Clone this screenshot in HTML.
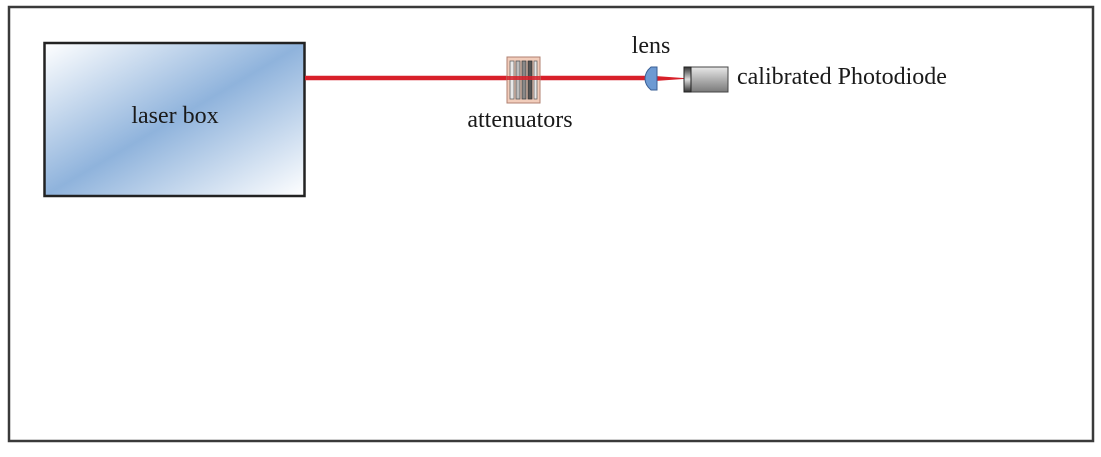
<!DOCTYPE html>
<html><head><meta charset="utf-8"><style>
html,body{margin:0;padding:0;background:#fff;}
body{width:1101px;height:452px;overflow:hidden;}
text{font-family:"Liberation Serif",serif;fill:#1a1a1a;}
</style></head><body>
<svg width="1101" height="452" viewBox="0 0 1101 452" xmlns="http://www.w3.org/2000/svg">
<defs>
<linearGradient id="lb" x1="0" y1="0" x2="1" y2="1" gradientUnits="objectBoundingBox">
<stop offset="0" stop-color="#ffffff"/>
<stop offset="0.5" stop-color="#8fb3dc"/>
<stop offset="1" stop-color="#ffffff"/>
</linearGradient>
<linearGradient id="pd" x1="0" y1="0" x2="0" y2="1">
<stop offset="0" stop-color="#e8e8e8"/>
<stop offset="0.5" stop-color="#b0b0b0"/>
<stop offset="1" stop-color="#7a7a7a"/>
</linearGradient>
<linearGradient id="pf" x1="0" y1="0" x2="0" y2="1">
<stop offset="0" stop-color="#333"/>
<stop offset="0.5" stop-color="#ddd"/>
<stop offset="1" stop-color="#333"/>
</linearGradient>
</defs>
<rect x="9" y="7" width="1084" height="434" fill="#fff" stroke="#3a3a3a" stroke-width="2.5"/>
<rect x="44.5" y="43" width="260" height="153" fill="url(#lb)" stroke="#222" stroke-width="2.5"/>
<text x="175" y="123" font-size="24" text-anchor="middle">laser box</text>
<line x1="305" y1="78" x2="648" y2="78" stroke="#d8202a" stroke-width="4.5"/>
<polygon points="655,76 690,78.5 655,81" fill="#d8202a"/>
<rect x="507" y="57" width="33" height="46" fill="#f2cdbb" stroke="#b08070" stroke-width="1"/>
<rect x="510" y="61" width="4" height="38" fill="#e8e8e8" stroke="#666" stroke-width="0.8"/>
<rect x="516" y="61" width="4" height="38" fill="#bbb" stroke="#555" stroke-width="0.8"/>
<rect x="522" y="61" width="4" height="38" fill="#888" stroke="#444" stroke-width="0.8"/>
<rect x="528" y="61" width="4" height="38" fill="#555" stroke="#333" stroke-width="0.8"/>
<rect x="534" y="61" width="3" height="38" fill="#e8e8e8" stroke="#666" stroke-width="0.8"/>
<line x1="507" y1="78" x2="540" y2="78" stroke="#d8202a" stroke-width="4" opacity="0.85"/>
<text x="520" y="127" font-size="24" text-anchor="middle">attenuators</text>
<path d="M657,67 L651,67 Q645,72 645,78.5 Q645,85 651,90 L657,90 Z" fill="#6d9ad3" stroke="#3a5f95" stroke-width="1"/>
<text x="651" y="53" font-size="24" text-anchor="middle">lens</text>
<rect x="684" y="67" width="44" height="25" fill="url(#pd)" stroke="#444" stroke-width="1"/>
<rect x="684" y="67" width="7" height="25" fill="url(#pf)" stroke="#222" stroke-width="1"/>
<text x="737" y="84" font-size="24">calibrated Photodiode</text>
</svg>
</body></html>
